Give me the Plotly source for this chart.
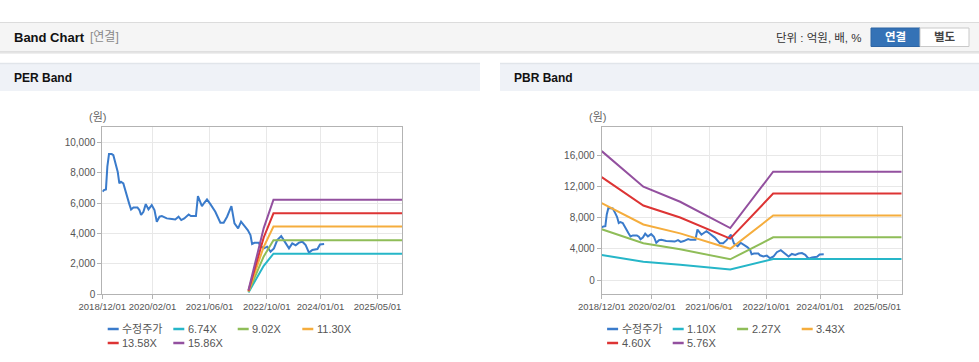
import plotly.graph_objects as go

W, H = 979, 362

# ---------------- data ----------------
price_name = "수정주가"
price_dates = [
    "2018-12-03", "2018-12-15", "2019-01-01", "2019-01-13", "2019-01-27", "2019-02-19",
    "2019-03-05", "2019-03-25", "2019-04-11", "2019-04-25", "2019-05-09", "2019-05-29",
    "2019-06-13", "2019-07-03", "2019-07-17", "2019-08-03", "2019-08-23", "2019-09-26",
    "2019-10-13", "2019-10-27", "2019-11-16", "2019-12-06", "2019-12-29", "2020-01-26",
    "2020-02-18", "2020-03-09", "2020-04-01", "2020-04-21", "2020-06-02", "2020-07-15",
    "2020-08-13", "2020-09-10", "2020-10-03", "2020-10-29", "2020-12-05", "2020-12-24",
    "2021-02-05", "2021-02-22", "2021-03-08", "2021-03-28", "2021-04-17", "2021-05-10",
    "2021-06-08", "2021-07-20", "2021-09-01", "2021-09-29", "2021-10-28", "2021-12-04",
    "2021-12-30", "2022-01-30", "2022-02-24", "2022-03-19", "2022-04-22", "2022-05-15",
    "2022-05-29", "2022-06-18", "2022-07-25", "2022-08-08", "2022-09-06", "2022-10-05",
    "2022-11-02", "2022-12-01", "2022-12-29", "2023-02-01", "2023-02-24", "2023-04-08",
    "2023-05-06", "2023-06-04", "2023-07-02", "2023-07-31", "2023-08-28", "2023-09-25",
    "2023-10-24", "2023-12-06", "2023-12-28", "2024-02-01",
]
price_values = [
    6750, 6860, 6900, 8400, 9230, 9230,
    9160, 8600, 8070, 7300, 7410, 7300,
    6860, 6200, 5980, 5580, 5710, 5710,
    5540, 5210, 5430, 5930, 5580, 5870,
    5540, 4770, 5100, 5140, 4990, 4950,
    4920, 5100, 4880, 4990, 5250, 5140,
    5140, 6460, 6200, 5800, 6020, 6240,
    5930, 5430, 4700, 4700, 5100, 5800,
    4660, 4330, 4770, 4550, 4220, 3890,
    3300, 3380, 3380, 3165, 3010, 3120,
    2790, 3010, 3560, 3820, 3560, 3010,
    3340, 3210, 3390, 3450, 3230, 2730,
    2900, 2970, 3270, 3300,
]

per_band_dates = ["2022-04-28", "2022-09-05", "2022-11-27", "2025-11-25"]
per_labels = ["6.74X", "9.02X", "11.30X", "13.58X", "15.86X"]
per_band_1 = [100, 1860, 2660, 2660]
per_band_2 = [135, 2480, 3545, 3545]
per_band_3 = [170, 3115, 4450, 4450]
per_band_4 = [205, 3730, 5325, 5325]
per_band_5 = [240, 4350, 6220, 6220]

pbr_band_dates = ["2018-12-01", "2019-11-20", "2020-09-28", "2021-11-28", "2022-11-28", "2025-11-25"]
pbr_labels = ["1.10X", "2.27X", "3.43X", "4.60X", "5.76X"]
pbr_band_1 = [3200, 2330, 1950, 1340, 2700, 2700]
pbr_band_2 = [6500, 4710, 3950, 2650, 5460, 5460]
pbr_band_3 = [9830, 7110, 5970, 4000, 8250, 8250]
pbr_band_4 = [13180, 9540, 8000, 5300, 11060, 11060]
pbr_band_5 = [16500, 11940, 10020, 6650, 13870, 13870]

x_tickvals = ["2018-12-01", "2020-02-01", "2021-06-01", "2022-10-01", "2024-01-01", "2025-05-01"]
x_ticktext = ["2018/12/01", "2020/02/01", "2021/06/01", "2022/10/01", "2024/01/01", "2025/05/01"]
per_yticks = [0, 2000, 4000, 6000, 8000, 10000]
pbr_yticks = [0, 4000, 8000, 12000, 16000]

# ---------------- style ----------------
FONT = "Liberation Sans, Arial, Noto Sans CJK KR, sans-serif"
price_color = "#3a7bcb"
band_colors = ["#26b6c8", "#8fbd58", "#f5ad3d", "#dd3434", "#93509f"]

def px(x):
    return x / W

def py(y):
    return 1 - y / H

fig = go.Figure()

per_bands = [per_band_1, per_band_2, per_band_3, per_band_4, per_band_5]
pbr_bands = [pbr_band_1, pbr_band_2, pbr_band_3, pbr_band_4, pbr_band_5]

fig.add_trace(go.Scatter(x=price_dates, y=price_values, name=price_name, mode="lines",
                         line=dict(color=price_color, width=2), xaxis="x", yaxis="y"))
for lab, vals, col in zip(per_labels, per_bands, band_colors):
    fig.add_trace(go.Scatter(x=per_band_dates, y=vals, name=lab, mode="lines",
                             line=dict(color=col, width=2), xaxis="x", yaxis="y"))

fig.add_trace(go.Scatter(x=price_dates, y=price_values, name=price_name, mode="lines",
                         line=dict(color=price_color, width=2), xaxis="x2", yaxis="y2"))
for lab, vals, col in zip(pbr_labels, pbr_bands, band_colors):
    fig.add_trace(go.Scatter(x=pbr_band_dates, y=vals, name=lab, mode="lines",
                             line=dict(color=col, width=2), xaxis="x2", yaxis="y2"))

ydom = [py(294), py(127.3)]
axis_common = dict(showgrid=True, gridcolor="#e8e8e8", gridwidth=1, showline=True, mirror=True,
                   linecolor="#b3b3b3", linewidth=1, ticks="outside", ticklen=4,
                   tickcolor="#b3b3b3", zeroline=False, fixedrange=True, automargin=False)
xaxis_common = dict(axis_common, type="date", range=["2018-12-01", "2025-11-25"],
                    tickmode="array", tickvals=x_tickvals, ticktext=x_ticktext, tickangle=0,
                    tickfont=dict(size=9.5, color="#555", family=FONT))

fig.update_layout(
    template="none",
    width=W, height=H, margin=dict(l=0, r=0, t=0, b=0, pad=0), autosize=False,
    paper_bgcolor="white", plot_bgcolor="white", showlegend=False,
    font=dict(family=FONT, color="#555"),
    xaxis=dict(xaxis_common, domain=[px(102.3), px(402)], anchor="y"),
    yaxis=dict(axis_common, domain=ydom, range=[0, 11000], tickmode="array",
               tickvals=per_yticks, tickformat=",", anchor="x",
               tickfont=dict(size=10, color="#555", family=FONT)),
    xaxis2=dict(xaxis_common, domain=[px(601.7), px(901.7)], anchor="y2"),
    yaxis2=dict(axis_common, domain=ydom, range=[-1790, 19550], tickmode="array",
                tickvals=pbr_yticks, tickformat=",", anchor="x2",
                tickfont=dict(size=10, color="#555", family=FONT)),
)

shapes = []
ann = []

def rect(x0, y0, x1, y1, fill, line_color=None, lw=0):
    shapes.append(dict(type="rect", xref="paper", yref="paper", x0=px(x0), x1=px(x1),
                       y0=py(y1), y1=py(y0), fillcolor=fill, layer="below",
                       line=dict(color=line_color or fill, width=lw)))

def hline(x0, x1, y, color, w=1):
    shapes.append(dict(type="line", xref="paper", yref="paper", x0=px(x0), x1=px(x1),
                       y0=py(y), y1=py(y), line=dict(color=color, width=w)))

def text(x, y, s, size, color, xanchor="left", bold=False):
    ann.append(dict(xref="paper", yref="paper", x=px(x), y=py(y), text=("<b>%s</b>" % s) if bold else s,
                    showarrow=False, xanchor=xanchor, yanchor="middle",
                    font=dict(size=size, color=color, family=FONT)))

# header bar
rect(0, 22, 979, 52, "#f5f5f5")
hline(0, 979, 22.5, "#dcdcdc")
hline(0, 979, 52, "#c9c9c9")
hline(0, 979, 53.2, "#e6e6e6")
text(12, 37, "Band Chart", 13, "#111", bold=True)
text(88, 37.5, "[연결]", 12, "#8a8a8a")
text(864, 38, "단위 : 억원, 배, %", 11.5, "#333", xanchor="right")
rect(871, 28, 920, 46.5, "#3472b6", "#2d64a3", 1)
rect(920, 28, 969, 46.5, "#ffffff", "#c9c9c9", 1)
text(895.5, 37.5, "연결", 11.5, "#ffffff", xanchor="center", bold=True)
text(944.5, 37.5, "별도", 11.5, "#444", xanchor="center", bold=True)

# panel headers
for x0, x1, title in [(0, 480, "PER Band"), (500, 979, "PBR Band")]:
    rect(x0, 63, x1, 91, "#eff2f7")
    hline(x0, x1, 63.5, "#e1e5ea", 1.5)
    text(x0 + 12, 78, title, 12, "#111", bold=True)

# unit labels
text(97, 117, "(원)", 11, "#666", xanchor="center")
text(597, 117, "(원)", 11, "#666", xanchor="center")

# legends
def legend(offset, labels):
    names = [price_name] + labels
    cols = [price_color] + band_colors
    pos = [(107.7, 329), (173.3, 329), (237.7, 329), (302.3, 329), (107.7, 343), (173.3, 343)]
    for (lx, ly), nm, c in zip(pos, names, cols):
        lx += offset
        shapes.append(dict(type="line", xref="paper", yref="paper", x0=px(lx), x1=px(lx + 11),
                           y0=py(ly), y1=py(ly), line=dict(color=c, width=2.5)))
        text(lx + 12.5, ly, nm, 11, "#555")

legend(0, per_labels)
legend(499.4, pbr_labels)

fig.update_layout(shapes=shapes, annotations=ann)

fig.write_html(
    "out.html",
    config={"responsive": False, "displayModeBar": False},
    post_script="document.body.style.margin='0';document.body.style.overflow='hidden';",
)
